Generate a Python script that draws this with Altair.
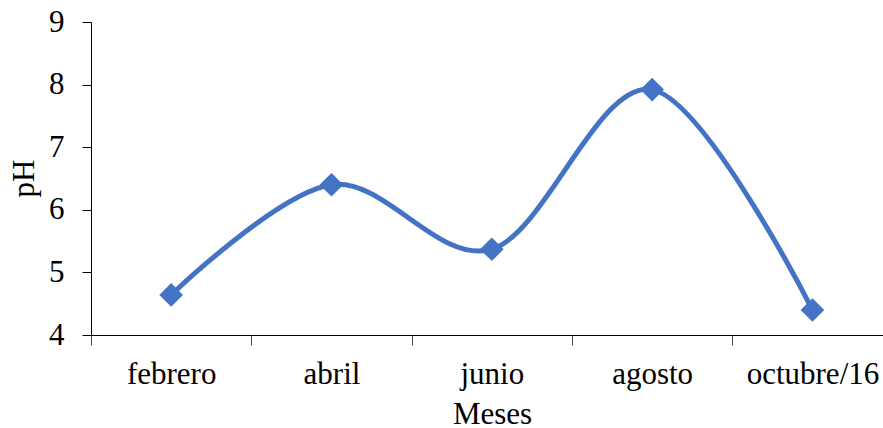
import altair as alt
import pandas as pd

meses = ["febrero", "abril", "junio", "agosto", "octubre/16"]
ph = [4.64, 6.40, 5.37, 7.92, 4.40]
y_ticks = [4, 5, 6, 7, 8, 9]
x_tick_positions = [-0.5, 0.5, 1.5, 2.5, 3.5]

df = pd.DataFrame({"idx": list(range(len(meses))), "mes": meses, "ph": ph})

FONT = "Liberation Serif"
COLOR = "#4472C4"

label_expr = "[" + ",".join("'" + m + "'" for m in meses) + "][round(datum.value)]"

xscale = alt.Scale(domain=[-0.5, 4.44], nice=False, zero=False)
yscale = alt.Scale(domain=[4, 9], nice=False, zero=False)

yaxis = alt.Axis(
    values=y_ticks, grid=False, domainColor="#000", tickColor="#000",
    tickSize=9, labelFont=FONT, labelFontSize=31, labelColor="#000",
    labelPadding=18, title="pH", titleFont=FONT, titleFontSize=31,
    titleFontWeight="normal", titleColor="#000", titleX=-58, titleY=156,
    titleBaseline="alphabetic", titleAngle=270,
)

line = alt.Chart(df).mark_line(
    interpolate="cardinal", color=COLOR, strokeWidth=5
).encode(
    x=alt.X("idx:Q", scale=xscale, axis=alt.Axis(
        orient="bottom",
        values=[0, 1, 2, 3, 4], labelExpr=label_expr, ticks=False, grid=False,
        domainColor="#000", labelFont=FONT, labelFontSize=31, labelColor="#000",
        labelBaseline="alphabetic", labelPadding=48, labelFlush=False,
        labelOverlap=False,
        title="Meses", titleFont=FONT, titleFontSize=31, titleFontWeight="normal",
        titleColor="#000", titleX=401, titleY=88, titleBaseline="alphabetic",
    )),
    y=alt.Y("ph:Q", scale=yscale, axis=yaxis),
)

points = alt.Chart(df).mark_point(
    shape="diamond", filled=True, color=COLOR, size=560, opacity=1
).encode(
    x=alt.X("idx:Q", scale=xscale, axis=alt.Axis(
        orient="bottom",
        values=x_tick_positions, labels=False, grid=False, domain=False,
        ticks=True, tickSize=10, tickColor="#444", title=None,
    )),
    y=alt.Y("ph:Q", scale=yscale, axis=yaxis),
)

chart = alt.layer(line, points).resolve_axis(x="independent").properties(
    width=792, height=313,
    autosize=alt.AutoSizeParams(type="none"),
    padding={"left": 91, "top": 22, "right": 0, "bottom": 93},
    background="white",
).configure_view(stroke=None)

chart.save("out.html", embed_options={"renderer": "svg", "actions": False})
